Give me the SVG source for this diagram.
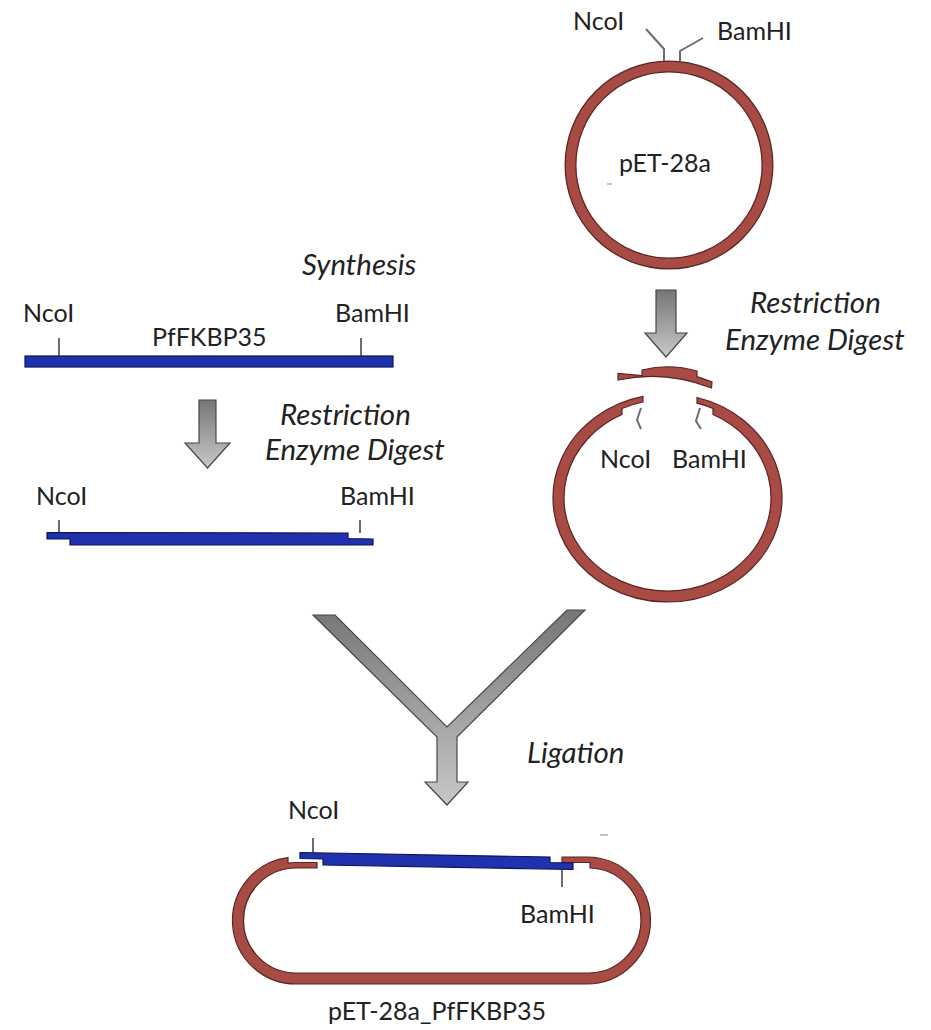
<svg xmlns="http://www.w3.org/2000/svg" width="931" height="1030" viewBox="0 0 931 1030">
  <defs>
    <linearGradient id="arrowFill" x1="0" y1="0" x2="0" y2="1">
      <stop offset="0" stop-color="#767676"/>
      <stop offset="1" stop-color="#c8c8c8"/>
    </linearGradient>
    <style>
      .lbl { font-family: Lato, "Liberation Sans", sans-serif; font-size: 25px; fill: #222; }
      .step { font-family: Lato, "Liberation Sans", sans-serif; font-size: 29.5px; font-style: italic; fill: #222; }
      .vec { fill: #a84b45; stroke: #5a2522; stroke-width: 1.2; stroke-linejoin: miter; }
      .dna { fill: #1f31ad; stroke: #0b145c; stroke-width: 1.2; }
      .site { fill: none; stroke: #6d6d6d; stroke-width: 2; }
      .arrow { fill: url(#arrowFill); stroke: #474747; stroke-width: 1.2; }
      .speck { stroke: #c4c4c4; stroke-width: 2; }
    </style>
  </defs>
  <rect width="931" height="1030" fill="#ffffff"/>

  <!-- intact vector -->
  <g id="plasmid-pet28a">
    <circle cx="669" cy="165" r="98.5" fill="none" stroke="#5a2522" stroke-width="12"/>
    <circle cx="669" cy="165" r="98.5" fill="none" stroke="#a84b45" stroke-width="9.5"/>
    <path class="site" d="M664,61 V49 L646,29"/>
    <path class="site" d="M680,61 V51 L703,38"/>
    <text class="lbl" x="573" y="30">NcoI</text>
    <text class="lbl" x="717" y="40">BamHI</text>
    <text class="lbl" x="665" y="172" text-anchor="middle">pET-28a</text>
    <line class="speck" x1="607" y1="184" x2="612" y2="184"/>
  </g>

  <!-- synthesized insert -->
  <g id="insert-synthesis">
    <text class="step" x="302" y="275">Synthesis</text>
    <path class="site" d="M59,338 V356 M361,338 V356"/>
    <rect class="dna" x="25" y="356" width="368" height="11"/>
    <text class="lbl" x="23" y="322">NcoI</text>
    <text class="lbl" x="335" y="322">BamHI</text>
    <text class="lbl" x="152" y="346">PfFKBP35</text>
  </g>

  <!-- digested insert with sticky ends -->
  <g id="insert-digested">
    <text class="step" x="280" y="425">Restriction</text>
    <text class="step" x="265" y="460">Enzyme Digest</text>
    <path class="site" d="M59,520 V533 M360,520 V533"/>
    <path class="dna" d="M47,532.5 L348,533 L348,538.5 L373,539 L373,545 L70,545 L70,539 L47,539 Z"/>
    <text class="lbl" x="36" y="505">NcoI</text>
    <text class="lbl" x="340" y="505">BamHI</text>
  </g>

  <!-- digested vector and excised fragment -->
  <g id="plasmid-digested">
    <text class="step" x="750" y="313">Restriction</text>
    <text class="step" x="725" y="350">Enzyme Digest</text>
    <path class="vec" d="M642,370 Q669.5,363 697,371 L697,376.5 L712,382 L711.5,388 Q665,370 618,380 L618,373.5 L642,375.5 Z"/>
    <path class="vec" d="M643,396.4 A114.5,104 0 1 0 697,397.5 L697,403.2 A109,98.5 0 0 1 713,408.5 L713,414.5 A103.5,93 0 1 1 622,414.5 L622,408.5 A109,98.5 0 0 1 643,402 Z"/>
    <path class="site" d="M641,408 L637,420 L641,429"/>
    <path class="site" d="M700,408 L696,421 L701,429"/>
    <text class="lbl" x="600" y="468">NcoI</text>
    <text class="lbl" x="672" y="468">BamHI</text>
  </g>

  <!-- recombinant product -->
  <g id="ligation-product">
    <text class="step" x="527" y="763">Ligation</text>
    <path class="site" d="M313,838 V853 M562,869 V887"/>
    <path class="vec" d="M288,857.5 A63.5,63.5 0 0 0 296,984 L587,984 A63.5,63.5 0 0 0 650.5,920.5 A63.5,63.5 0 0 0 587,857 L562,857 L562,862.5 L590,862.5 L590,868 A52.5,52.5 0 0 1 587,973 L296,973 A52.5,52.5 0 0 1 243.5,920.5 A52.5,52.5 0 0 1 296,868 L317,868 L317,862.5 L296,862.5 A58,58 0 0 0 288,863.1 Z"/>
    <path class="dna" d="M300,852.5 L550,857 L550,862.5 L573,863 L573,869.5 L323,865 L323,859 L300,858.5 Z"/>
    <text class="lbl" x="288" y="819">NcoI</text>
    <text class="lbl" x="520" y="923">BamHI</text>
    <text class="lbl" x="328" y="1020">pET-28a_PfFKBP35</text>
    <line class="speck" x1="600" y1="835" x2="608" y2="835"/>
  </g>

  <!-- process arrows -->
  <g id="connectors">
    <path class="arrow" d="M656,290 H676 V333 H687 L666,357 L645,333 H656 Z"/>
    <path class="arrow" d="M199,400 H216 V443 H230 L207.5,468 L185,443 H199 Z"/>
    <path class="arrow" d="M313,615 H335 L447,727 L567,610 H585 L457,737 V782 H468 L447,805 L425,782 H437 V737 Z"/>
  </g>
</svg>
